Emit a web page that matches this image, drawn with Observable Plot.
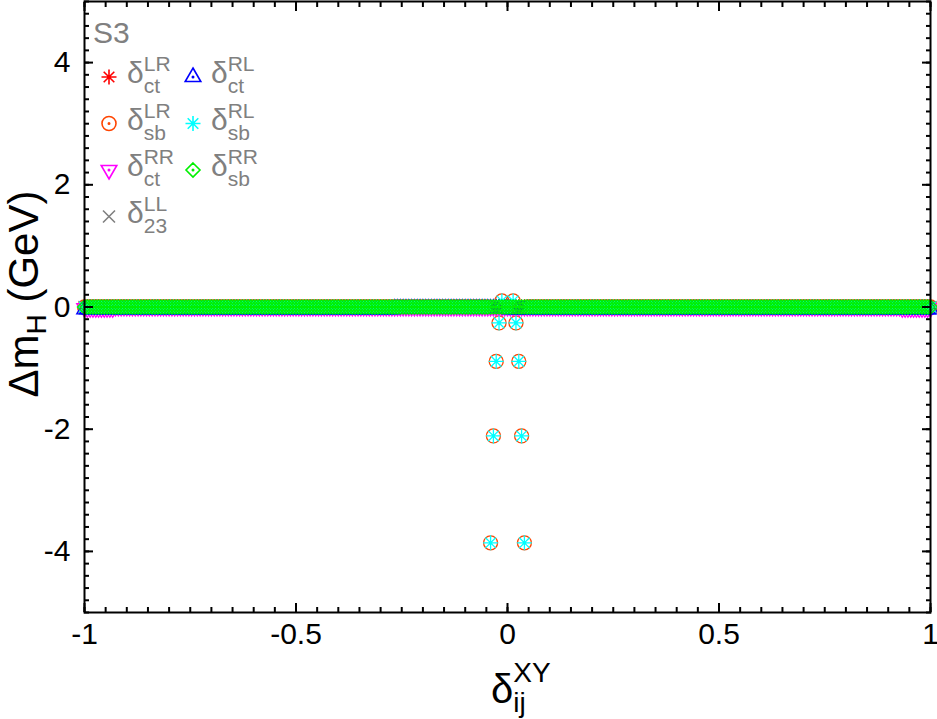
<!DOCTYPE html>
<html><head><meta charset="utf-8">
<script src="https://cdn.jsdelivr.net/npm/d3@7"></script>
<script src="https://cdn.jsdelivr.net/npm/@observablehq/plot@0.6"></script>
<style>body{margin:0;background:#fff}</style>
</head><body><div id="chart"></div>
<script>
// ---- data ----
// scan grid of delta_ij^XY (step 1/150)
const deltaGrid = [
-1,-0.9933,-0.9867,-0.98,-0.9733,-0.9667,-0.96,-0.9533,-0.9467,-0.94,-0.9333,-0.9267,-0.92,-0.9133,-0.9067,
-0.9,-0.8933,-0.8867,-0.88,-0.8733,-0.8667,-0.86,-0.8533,-0.8467,-0.84,-0.8333,-0.8267,-0.82,-0.8133,-0.8067,
-0.8,-0.7933,-0.7867,-0.78,-0.7733,-0.7667,-0.76,-0.7533,-0.7467,-0.74,-0.7333,-0.7267,-0.72,-0.7133,-0.7067,
-0.7,-0.6933,-0.6867,-0.68,-0.6733,-0.6667,-0.66,-0.6533,-0.6467,-0.64,-0.6333,-0.6267,-0.62,-0.6133,-0.6067,
-0.6,-0.5933,-0.5867,-0.58,-0.5733,-0.5667,-0.56,-0.5533,-0.5467,-0.54,-0.5333,-0.5267,-0.52,-0.5133,-0.5067,
-0.5,-0.4933,-0.4867,-0.48,-0.4733,-0.4667,-0.46,-0.4533,-0.4467,-0.44,-0.4333,-0.4267,-0.42,-0.4133,-0.4067,
-0.4,-0.3933,-0.3867,-0.38,-0.3733,-0.3667,-0.36,-0.3533,-0.3467,-0.34,-0.3333,-0.3267,-0.32,-0.3133,-0.3067,
-0.3,-0.2933,-0.2867,-0.28,-0.2733,-0.2667,-0.26,-0.2533,-0.2467,-0.24,-0.2333,-0.2267,-0.22,-0.2133,-0.2067,
-0.2,-0.1933,-0.1867,-0.18,-0.1733,-0.1667,-0.16,-0.1533,-0.1467,-0.14,-0.1333,-0.1267,-0.12,-0.1133,-0.1067,
-0.1,-0.0933,-0.0867,-0.08,-0.0733,-0.0667,-0.06,-0.0533,-0.0467,-0.04,-0.0333,-0.0267,-0.02,-0.0133,-0.0067,
0,0.0067,0.0133,0.02,0.0267,0.0333,0.04,0.0467,0.0533,0.06,0.0667,0.0733,0.08,0.0867,0.0933,
0.1,0.1067,0.1133,0.12,0.1267,0.1333,0.14,0.1467,0.1533,0.16,0.1667,0.1733,0.18,0.1867,0.1933,
0.2,0.2067,0.2133,0.22,0.2267,0.2333,0.24,0.2467,0.2533,0.26,0.2667,0.2733,0.28,0.2867,0.2933,
0.3,0.3067,0.3133,0.32,0.3267,0.3333,0.34,0.3467,0.3533,0.36,0.3667,0.3733,0.38,0.3867,0.3933,
0.4,0.4067,0.4133,0.42,0.4267,0.4333,0.44,0.4467,0.4533,0.46,0.4667,0.4733,0.48,0.4867,0.4933,
0.5,0.5067,0.5133,0.52,0.5267,0.5333,0.54,0.5467,0.5533,0.56,0.5667,0.5733,0.58,0.5867,0.5933,
0.6,0.6067,0.6133,0.62,0.6267,0.6333,0.64,0.6467,0.6533,0.66,0.6667,0.6733,0.68,0.6867,0.6933,
0.7,0.7067,0.7133,0.72,0.7267,0.7333,0.74,0.7467,0.7533,0.76,0.7667,0.7733,0.78,0.7867,0.7933,
0.8,0.8067,0.8133,0.82,0.8267,0.8333,0.84,0.8467,0.8533,0.86,0.8667,0.8733,0.88,0.8867,0.8933,
0.9,0.9067,0.9133,0.92,0.9267,0.9333,0.94,0.9467,0.9533,0.96,0.9667,0.9733,0.98,0.9867,0.9933,
1];

const seriesNames  = ["LR_ct", "LR_sb", "RR_ct", "LL_23", "RL_ct", "RL_sb", "RR_sb"];
const legendSup    = ["LR", "LR", "RR", "LL", "RL", "RL", "RR"];
const legendSub    = ["ct", "sb", "ct", "23", "ct", "sb", "sb"];
const seriesColors = ["#ff0000", "#ff4500", "#ff00ff", "#808080", "#0000ff", "#00ffff", "#00f000"];
// flat value of Delta m_H (GeV) of each series over the scan
const seriesLevel  = [0, 0, 0, 0, -0.04, 0, 0];
// [series index, delta from, delta to, Delta m_H] : stretches that sit at another level
const levelStretches = [[4, -0.27, 0, -0.025], [2, -1, -0.93, -0.02], [2, 0.93, 1, -0.02]];
// points of the sb series (LR_sb and RL_sb) off the flat band near delta = 0
const sbDelta = [-0.04, -0.0333, -0.0267, -0.02, -0.0133, 0.0133, 0.02, 0.0267, 0.0333, 0.04];
const sbDm    = [-3.86, -2.11, -0.89, -0.26, 0.1, 0.1, -0.26, -0.89, -2.11, -3.86];
const sbSeries = [1, 5];

const xMajorTicks = [-1, -0.5, 0, 0.5, 1];
const xMinorTicks = [-1,-0.95,-0.9,-0.85,-0.8,-0.75,-0.7,-0.65,-0.6,-0.55,-0.5,-0.45,-0.4,-0.35,-0.3,-0.25,-0.2,-0.15,-0.1,-0.05,0,
  0.05,0.1,0.15,0.2,0.25,0.3,0.35,0.4,0.45,0.5,0.55,0.6,0.65,0.7,0.75,0.8,0.85,0.9,0.95,1];
const yMajorTicks = [-4, -2, 0, 2, 4];
const yMinorTicks = [-5,-4.8,-4.6,-4.4,-4.2,-4,-3.8,-3.6,-3.4,-3.2,-3,-2.8,-2.6,-2.4,-2.2,-2,-1.8,-1.6,-1.4,-1.2,-1,
  -0.8,-0.6,-0.4,-0.2,0,0.2,0.4,0.6,0.8,1,1.2,1.4,1.6,1.8,2,2.2,2.4,2.6,2.8,3,3.2,3.4,3.6,3.8,4,4.2,4.4,4.6,4.8,5];

// ---- symbols (gnuplot-like) ----
const centerDot = (c) => { c.moveTo(0.7, 0); c.arc(0, 0, 0.7, 0, 2 * Math.PI); };
const R = (size) => Math.sqrt(size / Math.PI);
const symAsterisk = {draw(c, s) { const r = R(s), d = r * 0.707;
  c.moveTo(-r, 0); c.lineTo(r, 0); c.moveTo(0, -r); c.lineTo(0, r);
  c.moveTo(-d, -d); c.lineTo(d, d); c.moveTo(-d, d); c.lineTo(d, -d); }};
const symCircle = {draw(c, s) { const r = R(s); c.moveTo(r, 0); c.arc(0, 0, r, 0, 2 * Math.PI); centerDot(c); }};
const symTriUp = {draw(c, s) { const r = R(s);
  c.moveTo(0, -r); c.lineTo(0.866 * r, r / 2); c.lineTo(-0.866 * r, r / 2); c.closePath(); centerDot(c); }};
const symTriDown = {draw(c, s) { const r = R(s);
  c.moveTo(0, r); c.lineTo(0.866 * r, -r / 2); c.lineTo(-0.866 * r, -r / 2); c.closePath(); centerDot(c); }};
const symCross = {draw(c, s) { const r = R(s);
  c.moveTo(-r, -r); c.lineTo(r, r); c.moveTo(-r, r); c.lineTo(r, -r); }};
const symDiamond = {draw(c, s) { const r = R(s);
  c.moveTo(0, -r); c.lineTo(r, 0); c.lineTo(0, r); c.lineTo(-r, 0); c.closePath(); centerDot(c); }};
const seriesSymbols = [symAsterisk, symCircle, symTriDown, symCross, symTriUp, symAsterisk, symDiamond];
const seriesR = [7.5, 7, 9, 6, 9, 7.5, 7];

function dmOf(i, d) {
  if (sbSeries.includes(i)) {
    const k = sbDelta.findIndex(v => Math.abs(v - d) < 1e-3);
    if (k >= 0) return sbDm[k];
  }
  for (const [si, a, b, v] of levelStretches) if (si === i && d >= a - 1e-9 && d <= b + 1e-9) return v;
  return seriesLevel[i];
}

const FONT = "'Liberation Sans', Arial, Helvetica, sans-serif";
const marks = [];
seriesNames.forEach((name, i) => {
  const pts = deltaGrid.map(d => ({delta: d, dm: dmOf(i, d), series: name}));
  marks.push(Plot.dot(pts, {x: "delta", y: "dm", symbol: seriesSymbols[i], r: seriesR[i],
    stroke: seriesColors[i], fill: "none", strokeWidth: 1.3}));
});

const tickOpts = {tickFormat: () => "", label: null, stroke: "black", strokeWidth: 2};
marks.push(
  Plot.frame({stroke: "black", strokeWidth: 2}),
  Plot.axisX(xMinorTicks, {...tickOpts, anchor: "bottom", tickSize: 5, dy: -5}),
  Plot.axisX(xMajorTicks, {...tickOpts, anchor: "bottom", tickSize: 9, dy: -9}),
  Plot.axisX(xMinorTicks, {...tickOpts, anchor: "top", tickSize: 5, dy: 5}),
  Plot.axisX(xMajorTicks, {...tickOpts, anchor: "top", tickSize: 9, dy: 9}),
  Plot.axisY(yMinorTicks, {...tickOpts, anchor: "left", tickSize: 5, dx: 5}),
  Plot.axisY(yMajorTicks, {...tickOpts, anchor: "left", tickSize: 9, dx: 9}),
  Plot.axisY(yMinorTicks, {...tickOpts, anchor: "right", tickSize: 5, dx: -5}),
  Plot.axisY(yMajorTicks, {...tickOpts, anchor: "right", tickSize: 9, dx: -9}),
  Plot.axisX(xMajorTicks, {anchor: "bottom", tickSize: 0, tickPadding: 10, label: null,
    tickFormat: d => String(d), fontSize: 30, fill: "black"}),
  Plot.axisY(yMajorTicks, {anchor: "left", tickSize: 0, tickPadding: 14, label: null,
    tickFormat: d => String(d), fontSize: 30, fill: "black"})
);

const chart = Plot.plot({
  width: 937, height: 719,
  marginLeft: 84, marginRight: 7, marginTop: 1, marginBottom: 107,
  x: {domain: [-1, 1]},
  y: {domain: [-5, 5]},
  style: {fontFamily: FONT, background: "white", overflow: "visible"},
  marks
});
document.getElementById("chart").appendChild(chart);

// ---- rich text: axis titles and legend ----
const svg = d3.select(chart);
const g = svg.append("g").attr("font-family", FONT).attr("text-anchor", "start");

// x title: delta_ij^XY
const xd = g.append("text").attr("x", 491).attr("y", 703).attr("font-size", 40).attr("fill", "black").text("δ");
const xw = xd.node().getComputedTextLength();
g.append("text").attr("x", 491 + xw).attr("y", 682).attr("font-size", 28).attr("fill", "black").text("XY");
g.append("text").attr("x", 491 + xw).attr("y", 712).attr("font-size", 28).attr("fill", "black").text("ij");

// y title: Delta m_H (GeV)
const yt = g.append("text").attr("transform", "translate(38,294) rotate(-90)")
  .attr("text-anchor", "middle").attr("font-size", 42).attr("fill", "black");
yt.append("tspan").text("Δm");
yt.append("tspan").attr("font-size", 28).attr("dy", 8).text("H");
yt.append("tspan").attr("dy", -8).text(" (GeV)");

// legend
const GRAY = "#808080";
g.append("text").attr("x", 93).attr("y", 43).attr("font-size", 30).attr("fill", GRAY).text("S3");
seriesNames.forEach((name, i) => {
  const col = i < 4 ? 0 : 1, row = i < 4 ? i : i - 4;
  const sx = [109, 193][col], tx = [127, 211][col], sy = 77 + row * 46.5;
  g.append("path")
    .attr("d", d3.symbol(seriesSymbols[i], Math.PI * seriesR[i] * seriesR[i])())
    .attr("transform", `translate(${sx},${sy})`)
    .attr("fill", "none").attr("stroke", seriesColors[i]).attr("stroke-width", 1.6);
  const t = g.append("text").attr("x", tx).attr("y", sy + 6).attr("font-size", 30).attr("fill", GRAY).text("δ");
  const w = t.node().getComputedTextLength();
  g.append("text").attr("x", tx + w).attr("y", sy - 6).attr("font-size", 21).attr("fill", GRAY).text(legendSup[i]);
  g.append("text").attr("x", tx + w).attr("y", sy + 16).attr("font-size", 21).attr("fill", GRAY).text(legendSub[i]);
});
</script>
</body></html>
